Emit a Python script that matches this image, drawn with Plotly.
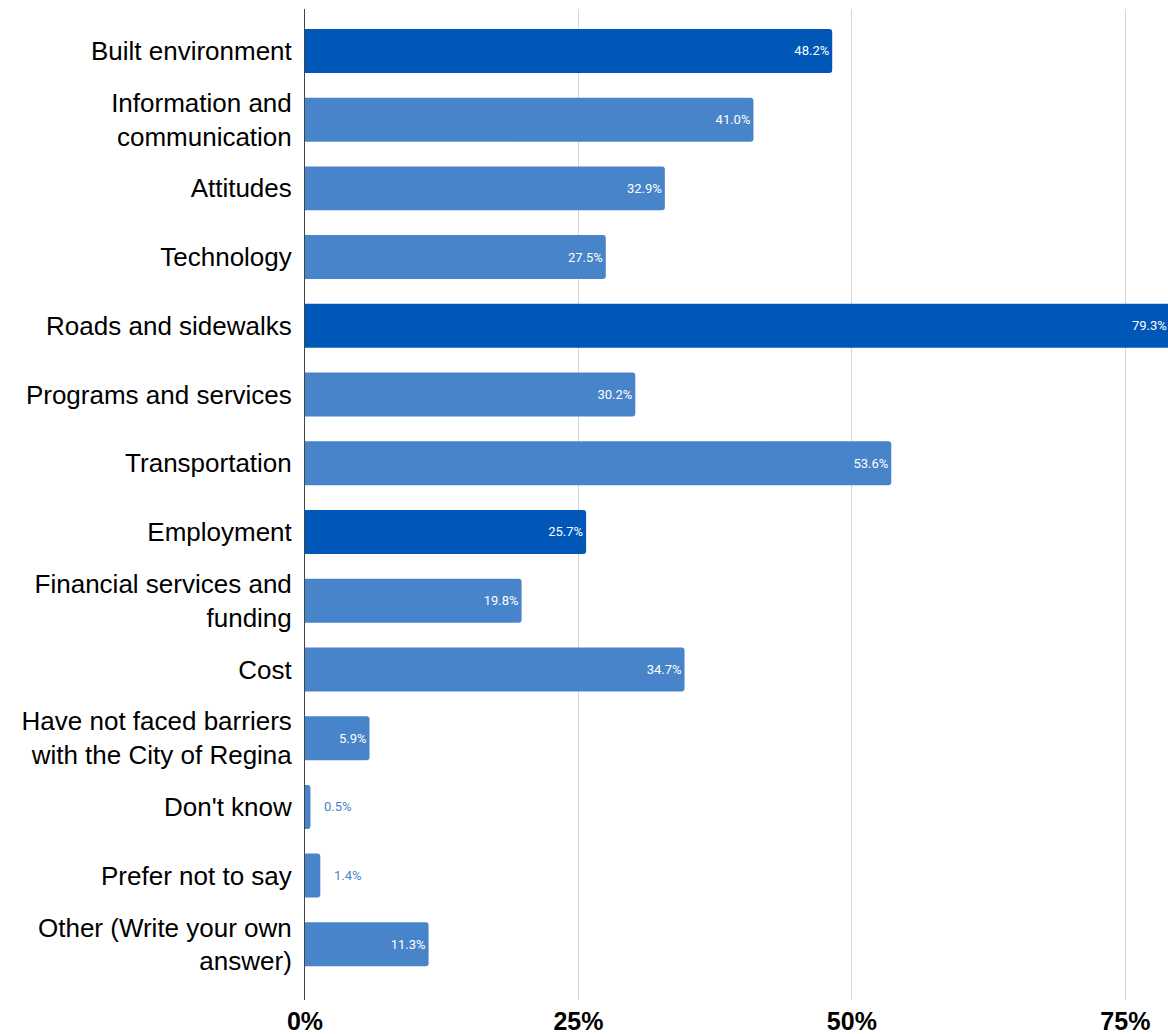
import plotly.graph_objects as go

# Barriers faced, share of respondents (%)
categories = [
    "Built environment",
    "Information and<br>communication",
    "Attitudes",
    "Technology",
    "Roads and sidewalks",
    "Programs and services",
    "Transportation",
    "Employment",
    "Financial services and<br>funding",
    "Cost",
    "Have not faced barriers<br>with the City of Regina",
    "Don't know",
    "Prefer not to say",
    "Other (Write your own<br>answer)",
]
values = [48.2, 41.0, 32.9, 27.5, 79.3, 30.2, 53.6, 25.7, 19.8, 34.7, 5.9, 0.5, 1.4, 11.3]
highlighted = ["Built environment", "Roads and sidewalks", "Employment"]

tick_values = [0, 25, 50, 75]
tick_labels = ["0%", "25%", "50%", "75%"]

DARK_BLUE = "#0057b8"
LIGHT_BLUE = "#4884c9"
INSIDE_MIN = 3   # bars narrower than this get their label outside
X_MAX = 78.9     # visible end of the value axis

LABEL_FONT = "Roboto, Liberation Sans, sans-serif"

colors = [DARK_BLUE if c in highlighted else LIGHT_BLUE for c in categories]
inside_text = [f"{v:.1f}%" if INSIDE_MIN <= v <= X_MAX else "" for v in values]

fig = go.Figure(
    go.Bar(
        x=values,
        y=categories,
        orientation="h",
        marker=dict(color=colors, line=dict(width=0), cornerradius=3),
        text=inside_text,
        textposition="inside",
        insidetextanchor="end",
        textangle=0,
        insidetextfont=dict(family=LABEL_FONT, size=13, color="white"),
        hoverinfo="x+y",
    )
)

for c, v in zip(categories, values):
    if v < INSIDE_MIN:
        # thin bars: label sits just past the bar end
        fig.add_annotation(
            x=v, y=c, text=f"{v:.1f}%", showarrow=False,
            xanchor="left", yanchor="middle", xshift=12,
            font=dict(family=LABEL_FONT, size=13, color=LIGHT_BLUE),
        )
    elif v > X_MAX:
        # bar runs past the axis end: label at the visible edge
        fig.add_annotation(
            x=X_MAX, y=c, text=f"{v:.1f}%", showarrow=False,
            xanchor="right", yanchor="middle", xshift=1,
            font=dict(family=LABEL_FONT, size=13, color="white"),
        )

fig.update_layout(
    width=1168,
    height=1034,
    margin=dict(l=305, r=0, t=9, b=34),
    paper_bgcolor="white",
    plot_bgcolor="white",
    bargap=0.36,
    showlegend=False,
    xaxis=dict(
        range=[0, X_MAX],
        tickvals=tick_values,
        ticktext=tick_labels,
        showgrid=True,
        gridcolor="#d6d6d6",
        gridwidth=1,
        zeroline=False,
        showline=False,
        ticks="",
        ticklabelstandoff=4,
        tickfont=dict(family="Liberation Sans, Arial, sans-serif", size=25, color="black", weight="bold"),
    ),
    yaxis=dict(
        type="category",
        range=[13.81, -0.61],
        showgrid=False,
        zeroline=False,
        showline=True,
        linecolor="#444444",
        linewidth=1,
        ticks="",
        ticklabelstandoff=7,
        tickfont=dict(family="Liberation Sans, Arial, sans-serif", size=26, color="black"),
    ),
)

fig.write_html("out.html")
